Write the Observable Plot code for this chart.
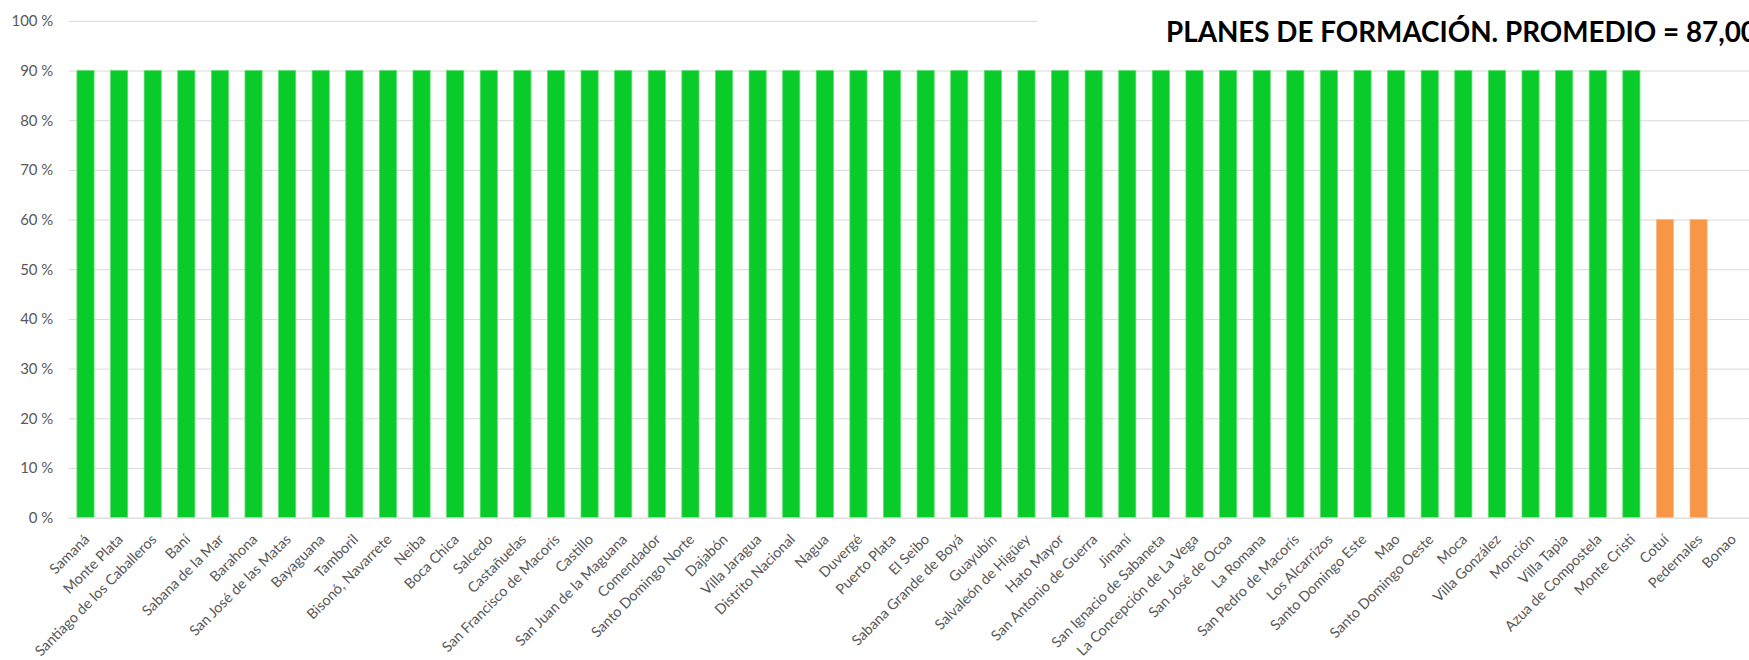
<!DOCTYPE html>
<html>
<head>
<meta charset="utf-8">
<script src="https://cdn.jsdelivr.net/npm/d3@7"></script>
<script src="https://cdn.jsdelivr.net/npm/@observablehq/plot@0.6"></script>
<style>
  html, body { margin: 0; padding: 0; background: #fff; overflow: hidden; width: 1749px; height: 660px; }
  #wrap { position: relative; width: 1749px; height: 660px; overflow: hidden; }
  #title { position: absolute; left: 1037px; top: 12px; width: 800px; height: 40px; background: #fff;
           font-family: Lato, "Open Sans", sans-serif; font-weight: 700; font-size: 27.8px; color: #000;
           white-space: nowrap; padding-left: 129px; line-height: 40px; box-sizing: border-box; }
  #chart { position: absolute; left: 0; top: 0; }
</style>
</head>
<body>
<div id="wrap">
  <div id="chart"></div>
  <div id="title">PLANES DE FORMACIÓN. PROMEDIO = 87,00 %</div>
</div>
<script>
const municipios = [
  "Samaná", "Monte Plata", "Santiago de los Caballeros", "Baní", "Sabana de la Mar",
  "Barahona", "San José de las Matas", "Bayaguana", "Tamboril", "Bisonó, Navarrete",
  "Neiba", "Boca Chica", "Salcedo", "Castañuelas", "San Francisco de Macorís",
  "Castillo", "San Juan de la Maguana", "Comendador", "Santo Domingo Norte", "Dajabón",
  "Villa Jaragua", "Distrito Nacional", "Nagua", "Duvergé", "Puerto Plata",
  "El Seibo", "Sabana Grande de Boyá", "Guayubín", "Salvaleón de Higüey", "Hato Mayor",
  "San Antonio de Guerra", "Jimaní", "San Ignacio de Sabaneta", "La Concepción de La Vega", "San José de Ocoa",
  "La Romana", "San Pedro de Macorís", "Los Alcarrizos", "Santo Domingo Este", "Mao",
  "Santo Domingo Oeste", "Moca", "Villa González", "Monción", "Villa Tapia",
  "Azua de Compostela", "Monte Cristi", "Cotuí", "Pedernales", "Bonao"
];
const porcentajes = [
  90, 90, 90, 90, 90, 90, 90, 90, 90, 90,
  90, 90, 90, 90, 90, 90, 90, 90, 90, 90,
  90, 90, 90, 90, 90, 90, 90, 90, 90, 90,
  90, 90, 90, 90, 90, 90, 90, 90, 90, 90,
  90, 90, 90, 90, 90, 90, 90, 60, 60, 0
];
const promedio = 87;
const yTicks = [0, 10, 20, 30, 40, 50, 60, 70, 80, 90, 100];

const data = municipios.map((m, i) => ({municipio: m, valor: porcentajes[i]}));

const chart = Plot.plot({
  width: 1757,
  height: 660,
  marginLeft: 69,
  marginRight: 0,
  marginTop: 21,
  marginBottom: 140,
  style: {fontFamily: "Lato, 'Open Sans', sans-serif", background: "#fff"},
  x: {domain: municipios, paddingInner: 0.49, paddingOuter: 0.245, align: 0.5, label: null, axis: null},
  y: {domain: [0, 100], label: null},
  marks: [
    Plot.gridY(yTicks.filter(d => d > 0), {stroke: "#d9d9d9", strokeOpacity: 1, strokeWidth: 1}),
    Plot.barY(data, {
      x: "municipio", y: "valor",
      fill: d => d.valor >= promedio ? "#09cb2a" : "#f79646",
      stroke: d => d.valor >= promedio ? "#5ee070" : "#fbb883",
      strokeWidth: 0.8
    }),
    Plot.ruleY([0], {stroke: "#d9d9d9", strokeWidth: 1.5}),
    Plot.axisY(yTicks, {
      tickSize: 0, tickPadding: 16, fontSize: 15, fill: "#595959",
      tickFormat: d => d + " %"
    }),
    Plot.text(data, {
      x: "municipio", y: () => 0, text: "municipio",
      rotate: -45, textAnchor: "end", lineAnchor: "middle",
      dy: 19, dx: 1, fontSize: 14.5, fill: "#595959"
    })
  ]
});
document.getElementById("chart").appendChild(chart);
</script>
</body>
</html>
